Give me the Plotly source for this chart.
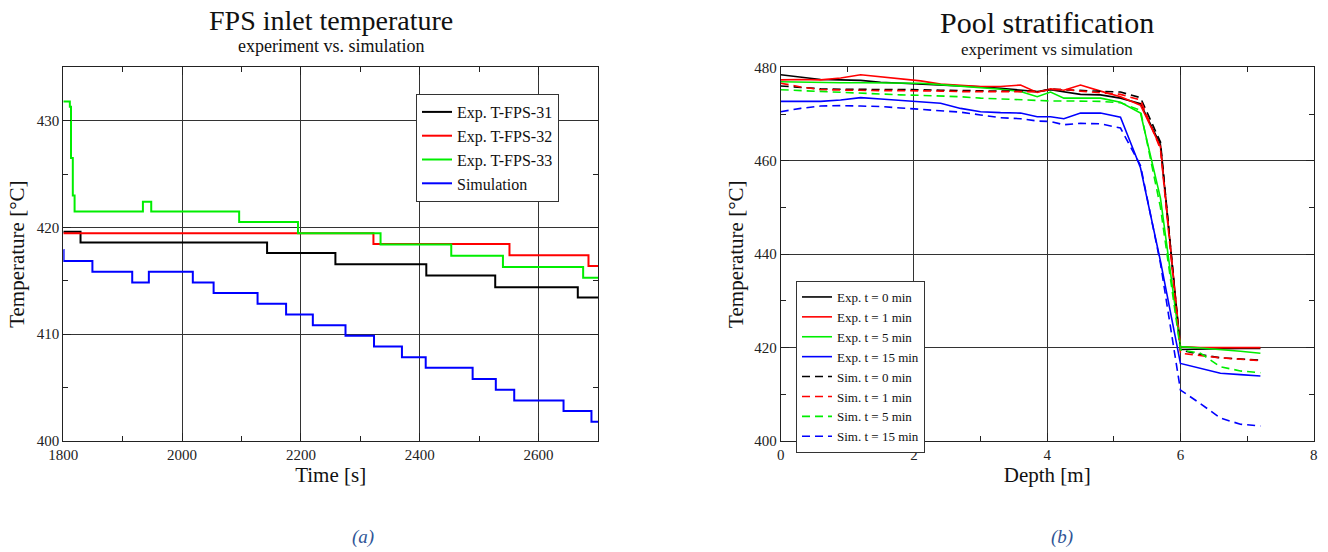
import plotly.graph_objects as go

W, H = 1328, 552
FONT = "Liberation Serif, Times New Roman, serif"

# ---------------- Left panel data: FPS inlet temperature ----------------
t_fps31 = [1800, 1829, 2143, 2258, 2411, 2527, 2666, 2700]
T_fps31 = [419.6, 418.6, 417.6, 416.55, 415.5, 414.4, 413.45, 413.45]

t_fps32 = [1800, 2322, 2551, 2684, 2700]
T_fps32 = [419.45, 418.45, 417.4, 416.4, 416.4]

t_fps33 = [1800, 1811, 1813, 1816, 1819, 1934, 1948, 2096, 2195, 2334, 2453, 2540, 2675, 2700]
T_fps33 = [431.8, 431.3, 426.5, 423.0, 421.5, 422.4, 421.5, 420.5, 419.45, 418.4, 417.35, 416.3, 415.3, 415.3]

t_sim = [1800, 1800.5, 1849, 1916, 1944, 2018, 2053, 2127, 2175, 2220, 2275, 2323, 2370,
         2410, 2489, 2528, 2559, 2642, 2689, 2700]
T_sim = [417.9, 416.85, 415.85, 414.85, 415.85, 414.85, 413.85, 412.85, 411.85, 410.85, 409.85,
         408.85, 407.85, 406.85, 405.8, 404.8, 403.8, 402.8, 401.8, 401.8]

# ---------------- Right panel data: pool stratification ----------------
depth = [0, 0.3, 0.6, 0.9, 1.2, 1.5, 1.8, 2.1, 2.4, 2.7, 3.0, 3.3, 3.6, 3.85, 4.05, 4.25,
         4.5, 4.8, 5.1, 5.4, 5.7, 6.0, 6.3, 6.6, 6.9, 7.2]

exp_t0 = [478.4, 477.9, 477.4, 477.3, 477.2, 476.8, 476.6, 476.5, 476.3, 476.0, 475.8, 475.5, 475.2,
          474.8, 475.2, 474.7, 474.2, 474.1, 473.4, 472.2, 463.4, 419.6, 419.7, 419.8, 419.8, 419.8]
exp_t1 = [477.3, 477.4, 477.3, 477.7, 478.4, 478.0, 477.6, 477.1, 476.4, 476.1, 475.9, 475.9, 476.2,
          474.6, 475.4, 475.1, 476.2, 474.9, 473.7, 471.9, 463.0, 420.2, 420.0, 420.0, 420.0, 420.0]
exp_t5 = [476.9, 476.8, 476.7, 476.7, 476.7, 476.7, 476.7, 476.6, 476.3, 476.0, 475.7, 475.3, 474.8,
          473.7, 474.7, 473.4, 473.4, 473.4, 472.5, 470.2, 452.0, 420.2, 419.9, 419.6, 419.2, 418.8]
exp_t15 = [472.7, 472.7, 472.7, 473.0, 473.5, 473.2, 472.9, 472.7, 472.3, 471.2, 470.5, 470.3, 470.2,
           469.4, 469.4, 469.0, 470.2, 470.2, 469.3, 458.5, 438.5, 416.6, 415.5, 414.5, 414.2, 413.9]

sim_t0 = [476.0, 475.7, 475.4, 475.3, 475.3, 475.3, 475.3, 475.2, 475.1, 475.0, 475.0, 474.9, 474.9,
          474.8, 475.3, 475.2, 475.0, 474.8, 474.7, 473.5, 464.0, 419.5, 418.5, 417.8, 417.5, 417.3]
sim_t1 = [476.6, 475.8, 475.2, 475.1, 475.1, 475.0, 475.0, 475.0, 474.9, 474.8, 474.8, 474.7, 474.7,
          474.8, 475.2, 475.3, 474.9, 474.6, 474.2, 473.0, 462.5, 418.8, 418.3, 417.8, 417.5, 417.2]
sim_t5 = [475.2, 475.0, 474.8, 474.6, 474.4, 474.2, 474.1, 474.0, 473.9, 473.7, 473.4, 473.2, 473.0,
          472.8, 472.8, 472.8, 472.8, 472.7, 472.4, 470.8, 450.0, 419.5, 418.8, 415.9, 415.0, 414.6]
sim_t15 = [470.5, 471.2, 471.7, 471.8, 471.7, 471.6, 471.3, 471.0, 470.7, 470.4, 469.8, 469.2, 469.0,
           468.5, 468.4, 467.7, 468.0, 467.9, 467.0, 459.0, 438.0, 410.9, 408.0, 404.9, 403.6, 403.2]

BLACK, RED, GREEN, BLUE = "#000000", "#ff0000", "#00ee00", "#0000ff"

fig = go.Figure()

left_series = [("Exp. T-FPS-31", t_fps31, T_fps31, BLACK),
               ("Exp. T-FPS-32", t_fps32, T_fps32, RED),
               ("Exp. T-FPS-33", t_fps33, T_fps33, GREEN),
               ("Simulation", t_sim, T_sim, BLUE)]
for name, x, y, c in left_series:
    fig.add_trace(go.Scatter(x=x, y=y, name=name, mode="lines", line_shape="hv",
                             line=dict(color=c, width=2), xaxis="x", yaxis="y",
                             legend="legend"))

right_series = [("Exp. t = 0 min", exp_t0, BLACK, "solid"),
                ("Exp. t = 1 min", exp_t1, RED, "solid"),
                ("Exp. t = 5 min", exp_t5, GREEN, "solid"),
                ("Exp. t = 15 min", exp_t15, BLUE, "solid"),
                ("Sim. t = 0 min", sim_t0, BLACK, "8px,5px"),
                ("Sim. t = 1 min", sim_t1, RED, "8px,5px"),
                ("Sim. t = 5 min", sim_t5, GREEN, "8px,5px"),
                ("Sim. t = 15 min", sim_t15, BLUE, "8px,5px")]
for name, y, c, d in right_series:
    fig.add_trace(go.Scatter(x=depth, y=y, name=name, mode="lines",
                             line=dict(color=c, width=1.6, dash=d), xaxis="x2", yaxis="y2",
                             legend="legend2"))

# plot-area pixel positions
L1, R1 = 63.3, 598.0
L2, R2 = 780.7, 1313.7
TOP, BOT = 67.3, 441.0
ydom = [1 - BOT / H, 1 - TOP / H]

axis_common = dict(showline=True, linecolor="#222", linewidth=1, mirror="allticks",
                   ticks="inside", ticklen=8, tickcolor="#222", showgrid=True,
                   gridcolor="#333", gridwidth=1, zeroline=False, automargin=False,
                   tickfont=dict(family=FONT, size=15, color="#222"),
                   title_font=dict(family=FONT, size=21, color="#111"))

fig.update_layout(
    width=W, height=H, margin=dict(l=0, r=0, t=0, b=0, autoexpand=False),
    paper_bgcolor="white", plot_bgcolor="white",
    font=dict(family=FONT),
    xaxis=dict(axis_common, domain=[L1 / W, R1 / W], range=[1800, 2700], dtick=200,
               minor=dict(dtick=100, ticks="inside", ticklen=5, tickcolor="#222"),
               title=dict(text="Time [s]", standoff=0), anchor="y"),
    yaxis=dict(axis_common, domain=ydom, range=[400, 435], dtick=10,
               minor=dict(dtick=5, ticks="inside", ticklen=5, tickcolor="#222"),
               title=dict(text="Temperature [°C]", standoff=6), anchor="x"),
    xaxis2=dict(axis_common, domain=[L2 / W, R2 / W], range=[0, 8], dtick=2,
                minor=dict(dtick=1, ticks="inside", ticklen=5, tickcolor="#222"),
                title=dict(text="Depth [m]", standoff=0), anchor="y2"),
    yaxis2=dict(axis_common, domain=ydom, range=[400, 480], dtick=20,
                minor=dict(dtick=10, ticks="inside", ticklen=5, tickcolor="#222"),
                title=dict(text="Temperature [°C]", standoff=4), anchor="x2"),
    legend=dict(x=416 / W, y=1 - 94 / H, xanchor="left", yanchor="top",
                bgcolor="white", bordercolor="#333", borderwidth=1,
                font=dict(family=FONT, size=16, color="#111"), itemwidth=30,
                tracegroupgap=0),
    legend2=dict(x=796 / W, y=1 - 281 / H, xanchor="left", yanchor="top",
                 bgcolor="white", bordercolor="#333", borderwidth=1,
                 font=dict(family=FONT, size=13, color="#111"), itemwidth=30,
                 tracegroupgap=0),
    showlegend=True,
)

annots = [
    dict(text="FPS inlet temperature", x=(L1 + R1) / 2 / W, y=1 - 20 / H, size=28),
    dict(text="experiment vs. simulation", x=(L1 + R1) / 2 / W, y=1 - 46 / H, size=18),
    dict(text="Pool stratification", x=(L2 + R2) / 2 / W, y=1 - 23 / H, size=30),
    dict(text="experiment vs simulation", x=(L2 + R2) / 2 / W, y=1 - 49 / H, size=17),
]
for a in annots:
    fig.add_annotation(text=a["text"], x=a["x"], y=a["y"], xref="paper", yref="paper",
                       xanchor="center", yanchor="middle", showarrow=False,
                       font=dict(family=FONT, size=a["size"], color="#111"))

for txt, cx in [("(a)", 363), ("(b)", 1062)]:
    fig.add_annotation(text="<i>" + txt + "</i>", x=cx / W, y=1 - 537 / H, xref="paper",
                       yref="paper", xanchor="center", yanchor="middle", showarrow=False,
                       font=dict(family=FONT, size=19, color="#2f5597"))

fig.write_html("out.html")
